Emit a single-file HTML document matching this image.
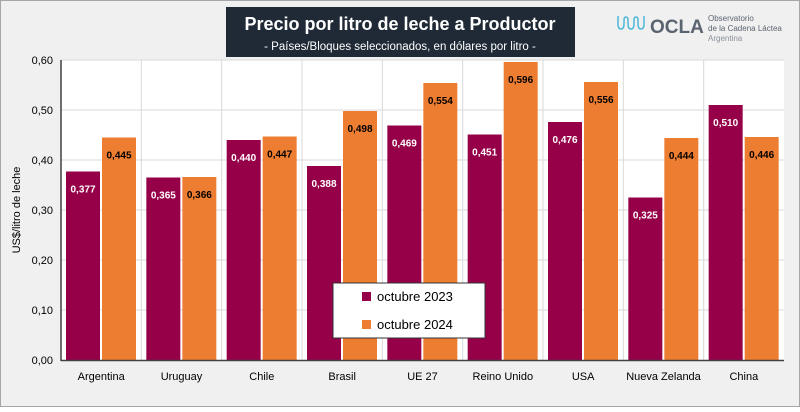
<!DOCTYPE html>
<html><head><meta charset="utf-8"><style>
body{margin:0;width:800px;height:407px;overflow:hidden;background:#fff;font-family:"Liberation Sans",sans-serif}
</style></head><body>
<svg id="c" width="800" height="407" xmlns="http://www.w3.org/2000/svg">
<rect x="0.5" y="0.5" width="799" height="406" fill="#f0f0f0" stroke="#a6a6a6"/>
<rect x="61" y="60" width="723" height="300" fill="#fff"/>
<g id="grid"></g><g id="bars"></g><g id="labels"></g>
<line x1="61" y1="60" x2="61" y2="361" stroke="#404040" stroke-width="1.5"/>
<line x1="61" y1="360.5" x2="784" y2="360.5" stroke="#404040" stroke-width="1.5"/>
<rect x="226" y="7" width="349" height="50" fill="#1f2a36"/>
<text x="400" y="30" text-anchor="middle" fill="#fff" font-size="18" font-weight="bold">Precio por litro de leche a Productor</text>
<text x="400" y="50" text-anchor="middle" fill="#fff" font-size="11.5">- Países/Bloques seleccionados, en dólares por litro -</text>
<g>
<path d="M618 16 v8 q0 5 3 5 q3 0 3 -5 v-4 q0 -3 2 -3 q2 0 2 3 v4 q0 5 3 5 q3 0 3 -5 v-4 q0 -3 2 -3 q2 0 2 3 v4 q0 5 3 5 q3 0 3 -5 v-8" fill="none" stroke="#4cb8d8" stroke-width="1.5"/>
<text x="650" y="33" font-size="19" font-weight="bold" fill="#5a6470">OCLA</text>
<text x="708" y="21" font-size="8" fill="#5a6470">Observatorio</text>
<text x="708" y="31" font-size="8" fill="#5a6470">de la Cadena Láctea</text>
<text x="708" y="41" font-size="8" fill="#8a9098">Argentina</text>
</g>
<text transform="translate(20,210) rotate(-90)" text-anchor="middle" font-size="11" fill="#000">US$/litro de leche</text>
<g>
<rect x="333" y="283" width="152" height="55" fill="#fff" stroke="#333" stroke-width="1"/>
<rect x="362" y="292" width="9" height="9" fill="#960048"/>
<text x="377" y="301" font-size="13">octubre 2023</text>
<rect x="362" y="320" width="9" height="9" fill="#ed7d31"/>
<text x="377" y="329" font-size="13">octubre 2024</text>
</g>
</svg>
<script>
const categories=["Argentina","Uruguay","Chile","Brasil","UE 27","Reino Unido","USA","Nueva Zelanda","China"];
const series2023=[0.377,0.365,0.440,0.388,0.469,0.451,0.476,0.325,0.510];
const series2024=[0.445,0.366,0.447,0.498,0.554,0.596,0.556,0.444,0.446];
const yTicks=[0,0.1,0.2,0.3,0.4,0.5,0.6];
const NS="http://www.w3.org/2000/svg";
const L=61,R=784,T=60,B=360,ymax=0.6;
const cw=(R-L)/categories.length;
const y=v=>B-(v/ymax)*(B-T);
const x=i=>L+i*cw;
function mk(t,a,p){const e=document.createElementNS(NS,t);for(const k in a)e.setAttribute(k,a[k]);p.appendChild(e);return e;}
const grid=document.getElementById('grid'),bars=document.getElementById('bars'),labels=document.getElementById('labels');
yTicks.forEach(v=>{
 if(v>0){const g=mk('line',{x1:L,x2:R,y1:y(v),y2:y(v),stroke:'#d9d9d9'},grid);
 
 }
 const t=mk('text',{x:L-8,y:y(v)+4,'text-anchor':'end','font-size':11},labels);
 t.textContent=v.toFixed(2).replace('.',',');
 
 
});
categories.forEach((c,i)=>{
 if(i>0){const g=mk('line',{x1:x(i),x2:x(i),y1:T,y2:B,stroke:'#d9d9d9'},grid);
 
 }
 const bw=34,x0=x(i)+5;
 [[series2023[i],'#960048','#fff',x0],[series2024[i],'#ed7d31','#000',x0+bw+2]].forEach((s,k)=>{
  const r=mk('rect',{x:s[3],y:y(s[0]),width:bw,height:B-y(s[0]),fill:s[1]},bars);
  
  
  const t=mk('text',{x:s[3]+bw/2,y:y(s[0])+21,'text-anchor':'middle','font-size':10,'font-weight':'bold',fill:s[2]},labels);
  t.textContent=s[0].toFixed(3).replace('.',',');
  
  
 });
 const t=mk('text',{x:x(i)+cw/2,y:380,'text-anchor':'middle','font-size':11},labels);
 t.textContent=c;
 
 
});
</script>
</body></html>
